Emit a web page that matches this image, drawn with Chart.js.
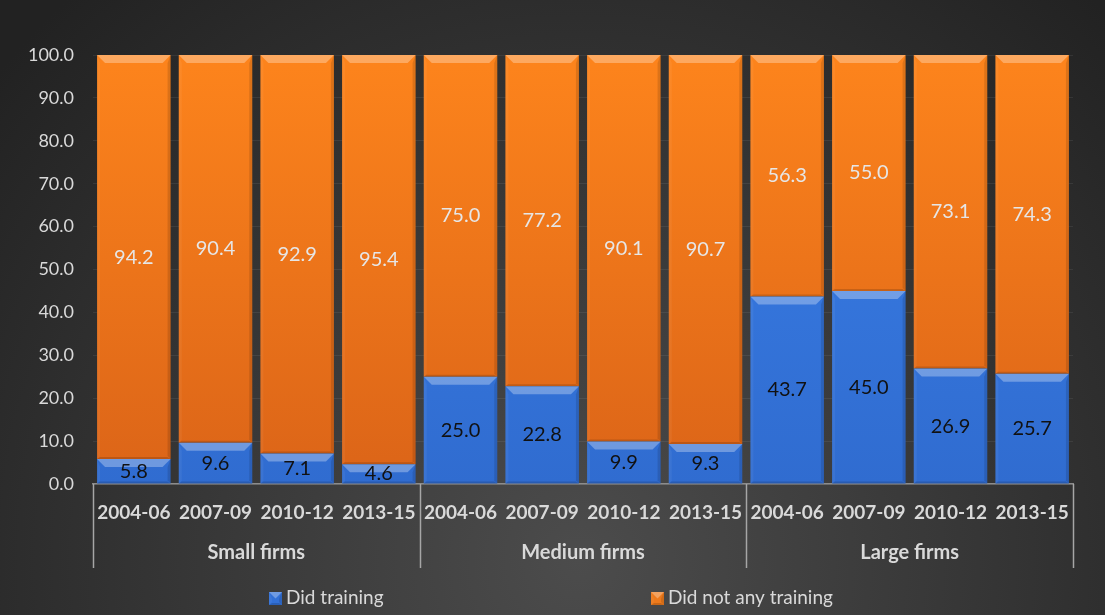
<!DOCTYPE html>
<html>
<head>
<meta charset="utf-8">
<script src="https://cdn.jsdelivr.net/npm/chart.js@4.4.1/dist/chart.umd.min.js"></script>
<style>
  html, body { margin: 0; padding: 0; background: #2b2b2b; }
  #wrap { width: 1105px; height: 615px; }
</style>
</head>
<body>
<div id="wrap"><canvas id="chart" width="1105" height="615"></canvas></div>
<script>
// training share by firm size and period (%)
var periods = ['2004-06', '2007-09', '2010-12', '2013-15',
               '2004-06', '2007-09', '2010-12', '2013-15',
               '2004-06', '2007-09', '2010-12', '2013-15'];
var groups = ['Small firms', 'Medium firms', 'Large firms'];
var didTraining = [5.8, 9.6, 7.1, 4.6, 25.0, 22.8, 9.9, 9.3, 43.7, 45.0, 26.9, 25.7];
var noTraining = [94.2, 90.4, 92.9, 95.4, 75.0, 77.2, 90.1, 90.7, 56.3, 55.0, 73.1, 74.3];
var yMin = 0, yMax = 100, yStep = 10;

var FONT = 'Lato, "Open Sans", sans-serif';
var TEXT = '#d9d9d9';

function vGrad(chart, top, bottom) {
  var a = chart.chartArea;
  if (!a) return top;
  var g = chart.ctx.createLinearGradient(0, a.top, 0, a.bottom);
  g.addColorStop(0, top);
  g.addColorStop(1, bottom);
  return g;
}

function poly(ctx, pts, fill) {
  ctx.beginPath();
  ctx.moveTo(pts[0][0], pts[0][1]);
  for (var i = 1; i < pts.length; i++) ctx.lineTo(pts[i][0], pts[i][1]);
  ctx.closePath();
  ctx.fillStyle = fill;
  ctx.fill();
}

// bevelled look on each bar segment
function bevel(ctx, l, t, r, b) {
  var s = Math.min(8, (b - t) / 2);
  var e = Math.min(3, (b - t) / 2);
  poly(ctx, [[l, t], [r, t], [r - s, t + s], [l + s, t + s]], 'rgba(255,255,255,0.30)');
  poly(ctx, [[l, t], [l + e, t + s], [l + e, b - e], [l, b]], 'rgba(255,255,255,0.05)');
  poly(ctx, [[r, t], [r, b], [r - e, b - e], [r - e, t + s]], 'rgba(0,0,0,0.12)');
  poly(ctx, [[l, b], [r, b], [r - e, b - 2], [l + e, b - 2]], 'rgba(0,0,0,0.15)');
}

var bgPlugin = {
  id: 'bg',
  beforeDraw: function (chart) {
    var ctx = chart.ctx;
    var g = ctx.createRadialGradient(580, 560, 0, 580, 560, 760);
    g.addColorStop(0, '#4c4c4c');
    g.addColorStop(1, '#222222');
    ctx.save();
    ctx.fillStyle = g;
    ctx.fillRect(0, 0, chart.width, chart.height);
    ctx.restore();
  }
};

var barDeco = {
  id: 'barDeco',
  afterDatasetsDraw: function (chart) {
    var ctx = chart.ctx;
    ctx.save();
    chart.data.datasets.forEach(function (ds, i) {
      var meta = chart.getDatasetMeta(i);
      meta.data.forEach(function (el, j) {
        var l = el.x - el.width / 2, r = el.x + el.width / 2;
        var t = Math.min(el.y, el.base), b = Math.max(el.y, el.base);
        bevel(ctx, l, t, r, b);
        ctx.fillStyle = ds.labelColor;
        ctx.font = '20px ' + FONT;
        ctx.textAlign = 'center';
        ctx.textBaseline = 'middle';
        ctx.fillText(ds.data[j].toFixed(1), el.x, (t + b) / 2);
      });
    });
    ctx.restore();
  }
};

// group labels, separators and legend under the category axis
var groupAxis = {
  id: 'groupAxis',
  afterDraw: function (chart) {
    var ctx = chart.ctx, x = chart.scales.x, a = chart.chartArea;
    var per = periods.length / groups.length;
    var step = x.getPixelForValue(1) - x.getPixelForValue(0);
    ctx.save();
    ctx.strokeStyle = '#a6a6a6';
    ctx.lineWidth = 1.5;
    for (var k = 0; k <= groups.length; k++) {
      var px = Math.round(x.getPixelForValue(k * per) - step / 2) + 0.5;
      ctx.beginPath();
      ctx.moveTo(px, a.bottom);
      ctx.lineTo(px, a.bottom + 84);
      ctx.stroke();
    }
    ctx.fillStyle = TEXT;
    ctx.font = 'bold 20px ' + FONT;
    ctx.textAlign = 'center';
    ctx.textBaseline = 'middle';
    groups.forEach(function (g, k) {
      var cx = (x.getPixelForValue(k * per) + x.getPixelForValue(k * per + per - 1)) / 2;
      ctx.fillText(g, cx, a.bottom + 69);
    });

    var legendX = [269, 651];
    var ly = 598;
    chart.data.datasets.forEach(function (ds, i) {
      var bx = legendX[i];
      ctx.fillStyle = ds.legendColor;
      ctx.fillRect(bx, ly - 6, 13, 13);
      bevel(ctx, bx, ly - 6, bx + 13, ly + 7);
      ctx.fillStyle = TEXT;
      ctx.font = '19px ' + FONT;
      ctx.textAlign = 'left';
      ctx.textBaseline = 'middle';
      ctx.fillText(ds.label, bx + 17, ly);
    });
    ctx.restore();
  }
};

new Chart(document.getElementById('chart'), {
  type: 'bar',
  data: {
    labels: periods,
    datasets: [{
      label: 'Did training',
      data: didTraining,
      backgroundColor: function (c) { return vGrad(c.chart, '#3a7fe8', '#306cd0'); },
      legendColor: '#3270d6',
      labelColor: '#111111',
      barPercentage: 0.9,
      categoryPercentage: 1
    }, {
      label: 'Did not any training',
      data: noTraining,
      backgroundColor: function (c) { return vGrad(c.chart, '#fd841c', '#db6418'); },
      legendColor: '#ed7a1c',
      labelColor: '#e6e6e6',
      barPercentage: 0.9,
      categoryPercentage: 1
    }]
  },
  options: {
    responsive: false,
    animation: false,
    layout: { padding: { top: 55, right: 32, left: 0, bottom: 0 } },
    plugins: {
      legend: { display: false },
      tooltip: { enabled: false }
    },
    scales: {
      x: {
        stacked: true,
        afterFit: function (s) { s.height = 131; },
        grid: { display: false },
        border: { color: '#8c8c8c', width: 1.5 },
        ticks: {
          color: TEXT,
          font: { family: FONT, size: 19, weight: 'bold' },
          padding: 9,
          maxRotation: 0,
          autoSkip: false
        }
      },
      y: {
        stacked: true,
        min: yMin,
        max: yMax,
        afterFit: function (s) { s.width = 93; },
        grid: { color: 'rgba(255,255,255,0.07)', drawTicks: false },
        border: { display: false },
        ticks: {
          stepSize: yStep,
          color: TEXT,
          font: { family: FONT, size: 18 },
          padding: 19,
          callback: function (v) { return v.toFixed(1); }
        }
      }
    }
  },
  plugins: [bgPlugin, barDeco, groupAxis]
});
</script>
</body>
</html>
